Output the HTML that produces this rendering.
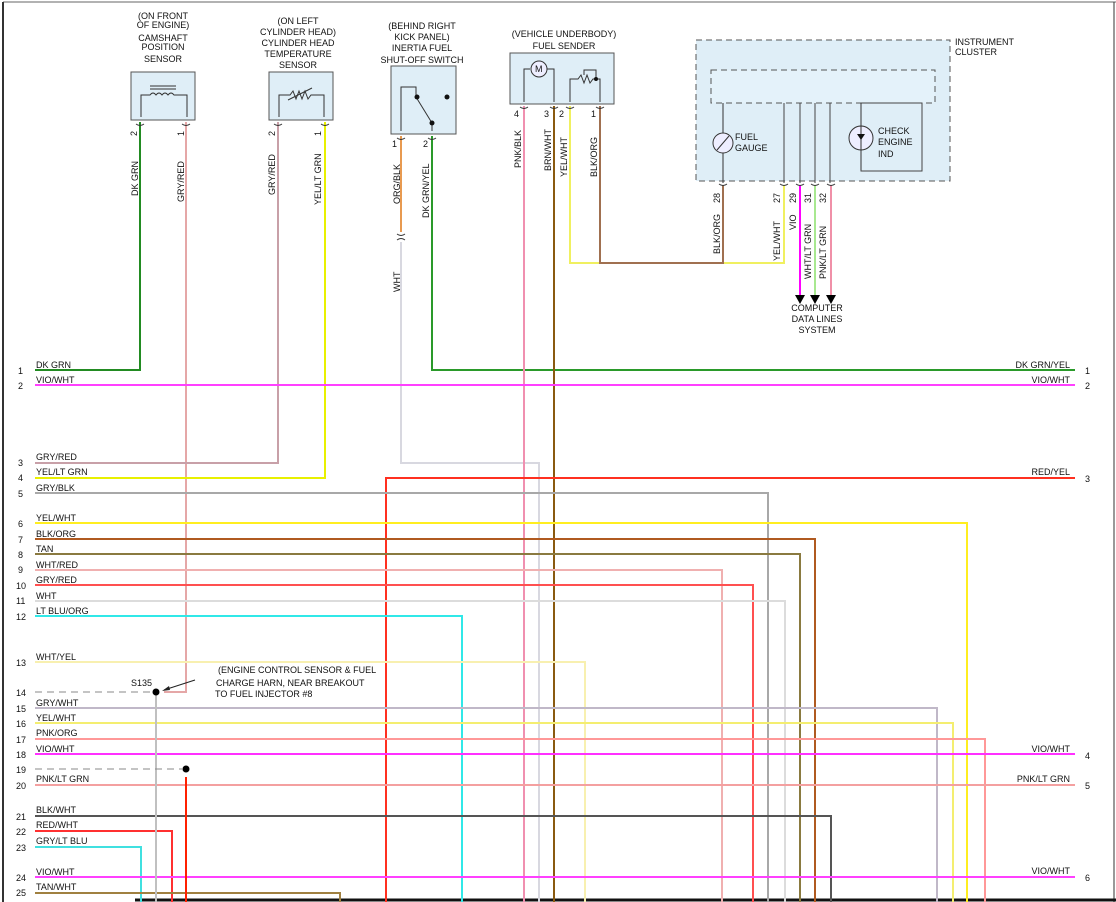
<!DOCTYPE html>
<html><head><meta charset="utf-8"><style>
html,body{margin:0;padding:0;background:#fff}
svg{display:block}
text{font-family:"Liberation Sans",Arial,sans-serif;font-size:9px;fill:#111}
</style></head><body>
<svg width="1116" height="902" viewBox="0 0 1116 902" xmlns="http://www.w3.org/2000/svg">
<rect x="0" y="0" width="1116" height="902" fill="#fff"/>
<line x1="3" y1="2" x2="1116" y2="2" stroke="#666" stroke-width="1"/>
<line x1="3" y1="2" x2="3" y2="902" stroke="#333" stroke-width="2"/>
<line x1="1114" y1="2" x2="1114" y2="902" stroke="#333" stroke-width="1"/>
<line x1="135" y1="900" x2="1116" y2="900" stroke="#111" stroke-width="3"/>

<g fill="#dfeef7" stroke="#555" stroke-width="1">
<rect x="131" y="72" width="64" height="48"/>
<rect x="269" y="72" width="64" height="48"/>
<rect x="391" y="66" width="65" height="68"/>
<rect x="510" y="53" width="104" height="51"/>
<rect x="696" y="40" width="254" height="141" stroke-dasharray="6,4"/>
<rect x="711" y="70" width="224" height="33" stroke-dasharray="6,4" fill="#e4f2fa"/>
</g>
<rect x="861" y="103" width="61" height="68" fill="none" stroke="#444"/>

<g text-anchor="middle">
<text x="163" y="19">(ON FRONT</text><text x="163" y="28">OF ENGINE)</text>
<text x="163" y="41">CAMSHAFT</text><text x="163" y="50">POSITION</text><text x="163" y="62">SENSOR</text>
<text x="298" y="24">(ON LEFT</text><text x="298" y="35">CYLINDER HEAD)</text><text x="298" y="46">CYLINDER HEAD</text><text x="298" y="57">TEMPERATURE</text><text x="298" y="68">SENSOR</text>
<text x="422" y="29">(BEHIND RIGHT</text><text x="422" y="40">KICK PANEL)</text><text x="422" y="51">INERTIA FUEL</text><text x="422" y="63">SHUT-OFF SWITCH</text>
<text x="564" y="37">(VEHICLE UNDERBODY)</text><text x="564" y="49">FUEL SENDER</text>
<text x="817" y="311">COMPUTER</text><text x="817" y="322">DATA LINES</text><text x="817" y="333">SYSTEM</text>
</g>
<text x="955" y="45">INSTRUMENT</text><text x="955" y="55">CLUSTER</text>
<text x="735" y="140">FUEL</text><text x="735" y="151">GAUGE</text>
<text x="878" y="134">CHECK</text><text x="878" y="145">ENGINE</text><text x="878" y="157">IND</text>

<g fill="none" stroke="#333" stroke-width="1">
<path d="M141,117 V95 H150 q3,-4 6,0 q3,-4 6,0 q3,-4 6,0 q3,-4 6,0 H187 V117"/>
<line x1="150" y1="86" x2="176" y2="86"/><line x1="150" y1="89" x2="176" y2="89"/>
<path d="M279,117 V95 H290 l3,-4 3,8 3,-8 3,8 3,-8 3,8 3,-4 H324 V117"/>
<line x1="288" y1="100" x2="312" y2="88"/>
<path d="M401,131 V87 H416 V97 L432,123"/>
<line x1="432" y1="123" x2="432" y2="131"/>
<path d="M524,102 V69 H530 M546,69 H554 V102"/>
<circle cx="539" cy="69" r="8" fill="#eef"/>
<path d="M570,102 V79 H578 l3,-4 3,8 3,-8 3,8 3,-4 H600 V102 M584,75 V70 H596 V79"/>
<line x1="723" y1="103" x2="723" y2="183"/>
<circle cx="723" cy="143" r="10" fill="#eef"/><line x1="717" y1="150" x2="729" y2="136"/>
<circle cx="861" cy="138" r="12" fill="#eef"/>
<line x1="861" y1="103" x2="861" y2="170"/>
</g>
<text x="535" y="72" font-size="7">M</text>
<g fill="#111"><circle cx="417" cy="97" r="2.5"/><circle cx="447" cy="97" r="2.5"/><circle cx="432" cy="123" r="2.5"/><circle cx="596" cy="79" r="2"/></g>
<path d="M857,134 h8 l-4,6 z" fill="#111"/>

<g stroke="#444" stroke-width="1">
<line x1="784" y1="103" x2="784" y2="183"/><line x1="800" y1="103" x2="800" y2="183"/>
<line x1="815" y1="103" x2="815" y2="183"/><line x1="830" y1="103" x2="830" y2="183"/>
</g>

<g font-size="9">
<text transform="translate(137,136) rotate(-90)">2</text>
<text transform="translate(184,136) rotate(-90)">1</text>
<text transform="translate(275,136) rotate(-90)">2</text>
<text transform="translate(321,136) rotate(-90)">1</text>
<text x="392" y="147">1</text><text x="423" y="147">2</text>
<text x="514" y="117">4</text><text x="544" y="117">3</text><text x="559" y="117">2</text><text x="591" y="117">1</text>
<text transform="translate(720,203) rotate(-90)">28</text>
<text transform="translate(780,203) rotate(-90)">27</text>
<text transform="translate(796,203) rotate(-90)">29</text>
<text transform="translate(811,203) rotate(-90)">31</text>
<text transform="translate(826,203) rotate(-90)">32</text>
</g>

<g>
<text transform="translate(138,196) rotate(-90)">DK GRN</text>
<text transform="translate(184,202) rotate(-90)">GRY/RED</text>
<text transform="translate(275,195) rotate(-90)">GRY/RED</text>
<text transform="translate(321,205) rotate(-90)">YEL/LT GRN</text>
<text transform="translate(400,204) rotate(-90)">ORG/BLK</text>
<text transform="translate(429,218) rotate(-90)">DK GRN/YEL</text>
<text transform="translate(400,292) rotate(-90)">WHT</text>
<text transform="translate(521,168) rotate(-90)">PNK/BLK</text>
<text transform="translate(551,171) rotate(-90)">BRN/WHT</text>
<text transform="translate(567,177) rotate(-90)">YEL/WHT</text>
<text transform="translate(597,177) rotate(-90)">BLK/ORG</text>
<text transform="translate(720,254) rotate(-90)">BLK/ORG</text>
<text transform="translate(780,261) rotate(-90)">YEL/WHT</text>
<text transform="translate(796,230) rotate(-90)">VIO</text>
<text transform="translate(811,279) rotate(-90)">WHT/LT GRN</text>
<text transform="translate(826,279) rotate(-90)">PNK/LT GRN</text>
</g>

<g fill="none" stroke-width="2">
<path d="M140,122 V370 H35" stroke="#228b22"/>
<path d="M186,122 V692 H164" stroke="#e5a7a7"/>
<path d="M278,122 V463 H35" stroke="#c8a0a8"/>
<path d="M325,122 V478 H35" stroke="#e8f000"/>
<path d="M401,136 V232" stroke="#e89a50"/>
<path d="M401,242 V463 H539 V902" stroke="#d8d8e0"/>
<path d="M432,136 V370 H1075" stroke="#2a9a2a"/>
<path d="M524,106 V902" stroke="#f090b0"/>
<path d="M554,106 V902" stroke="#8a5a10"/>
<path d="M570,106 V263 H784 V185" stroke="#f0f060"/>
<path d="M600,106 V263 H723 V185" stroke="#a07050"/>
<path d="M800,185 V295" stroke="#ff00ff"/>
<path d="M815,185 V295" stroke="#a8e890"/>
<path d="M831,185 V295" stroke="#f090a8"/>
<path d="M35,385 H1075" stroke="#ff40ff"/>
<path d="M1075,478 H386 V902" stroke="#ff3020"/>
<path d="M35,493 H768 V902" stroke="#a8a8a8"/>
<path d="M35,523 H967 V902" stroke="#ffee20"/>
<path d="M35,539 H815 V902" stroke="#b05a20"/>
<path d="M35,554 H800 V902" stroke="#8a7a40"/>
<path d="M35,570 H722 V902" stroke="#f0b0b0"/>
<path d="M35,585 H753 V902" stroke="#ff5050"/>
<path d="M35,601 H785 V902" stroke="#dcdcdc"/>
<path d="M35,616 H462 V902" stroke="#30e8e8"/>
<path d="M35,662 H585 V902" stroke="#f8f0b0"/>
<path d="M35,708 H937 V902" stroke="#c0b8c8"/>
<path d="M35,723 H953 V902" stroke="#f4ee70"/>
<path d="M35,739 H985 V902" stroke="#ff9898"/>
<path d="M35,754 H1075" stroke="#ff30ff"/>
<path d="M35,785 H1075" stroke="#f4a0a0"/>
<path d="M35,816 H831 V902" stroke="#555"/>
<path d="M35,831 H172 V902" stroke="#ff3030"/>
<path d="M35,847 H141 V902" stroke="#40e0e0"/>
<path d="M35,877 H1075" stroke="#ff40ff"/>
<path d="M35,893 H340 V902" stroke="#a08040"/>
<path d="M156,692 V902" stroke="#c0c0c0"/>
<path d="M186,777 V902" stroke="#ff2000"/>
</g>
<g stroke="#888" stroke-width="1" stroke-dasharray="7,5">
<line x1="35" y1="692" x2="152" y2="692"/><line x1="35" y1="769" x2="182" y2="769"/>
</g>
<circle cx="156" cy="692" r="3.5" fill="#000"/><circle cx="186" cy="769" r="3.5" fill="#000"/>
<line x1="195" y1="680" x2="164" y2="690" stroke="#222"/>
<path d="M162,691 l7,-5 l1,4 z" fill="#222"/>
<text x="131" y="686">S135</text>
<text x="218" y="673">(ENGINE CONTROL SENSOR &amp; FUEL</text>
<text x="216" y="686">CHARGE HARN, NEAR BREAKOUT</text>
<text x="215" y="697">TO FUEL INJECTOR #8</text>

<g fill="#000"><path d="M795,295 h10 l-5,9 z"/><path d="M810,295 h10 l-5,9 z"/><path d="M826,295 h10 l-5,9 z"/></g>
<g fill="none" stroke="#333" stroke-width="1">
<path d="M136,124 q4,3 8,0 M182,124 q4,3 8,0 M274,124 q4,3 8,0 M321,124 q4,3 8,0"/>
<path d="M397,138 q4,3 8,0 M428,138 q4,3 8,0 M397,234 q4,3 8,0 M397,240 q4,-3 8,0"/>
<path d="M520,107 q4,3 8,0 M550,107 q4,3 8,0 M566,107 q4,3 8,0 M596,107 q4,3 8,0"/>
<path d="M719,184 q4,3 8,0 M780,184 q4,3 8,0 M796,184 q4,3 8,0 M811,184 q4,3 8,0 M827,184 q4,3 8,0"/>
</g>

<g>
<text x="18" y="374">1</text><text x="36" y="368">DK GRN</text>
<text x="18" y="389">2</text><text x="36" y="383">VIO/WHT</text>
<text x="18" y="466">3</text><text x="36" y="460">GRY/RED</text>
<text x="18" y="481">4</text><text x="36" y="475">YEL/LT GRN</text>
<text x="18" y="497">5</text><text x="36" y="491">GRY/BLK</text>
<text x="18" y="527">6</text><text x="36" y="521">YEL/WHT</text>
<text x="18" y="543">7</text><text x="36" y="537">BLK/ORG</text>
<text x="18" y="558">8</text><text x="36" y="552">TAN</text>
<text x="18" y="573">9</text><text x="36" y="568">WHT/RED</text>
<text x="16" y="589">10</text><text x="36" y="583">GRY/RED</text>
<text x="16" y="604">11</text><text x="36" y="599">WHT</text>
<text x="16" y="620">12</text><text x="36" y="614">LT BLU/ORG</text>
<text x="16" y="666">13</text><text x="36" y="660">WHT/YEL</text>
<text x="16" y="696">14</text>
<text x="16" y="712">15</text><text x="36" y="706">GRY/WHT</text>
<text x="16" y="727">16</text><text x="36" y="721">YEL/WHT</text>
<text x="16" y="743">17</text><text x="36" y="736">PNK/ORG</text>
<text x="16" y="758">18</text><text x="36" y="752">VIO/WHT</text>
<text x="16" y="773">19</text>
<text x="16" y="789">20</text><text x="36" y="782">PNK/LT GRN</text>
<text x="16" y="820">21</text><text x="36" y="813">BLK/WHT</text>
<text x="16" y="835">22</text><text x="36" y="828">RED/WHT</text>
<text x="16" y="851">23</text><text x="36" y="844">GRY/LT BLU</text>
<text x="16" y="881">24</text><text x="36" y="875">VIO/WHT</text>
<text x="16" y="896">25</text><text x="36" y="890">TAN/WHT</text>
</g>
<g text-anchor="end">
<text x="1070" y="368">DK GRN/YEL</text><text x="1070" y="383">VIO/WHT</text>
<text x="1070" y="475">RED/YEL</text><text x="1070" y="752">VIO/WHT</text>
<text x="1070" y="782">PNK/LT GRN</text><text x="1070" y="874">VIO/WHT</text>
</g>
<g><text x="1085" y="374">1</text><text x="1085" y="389">2</text><text x="1085" y="482">3</text>
<text x="1085" y="759">4</text><text x="1085" y="789">5</text><text x="1085" y="881">6</text></g>
</svg>
</body></html>
